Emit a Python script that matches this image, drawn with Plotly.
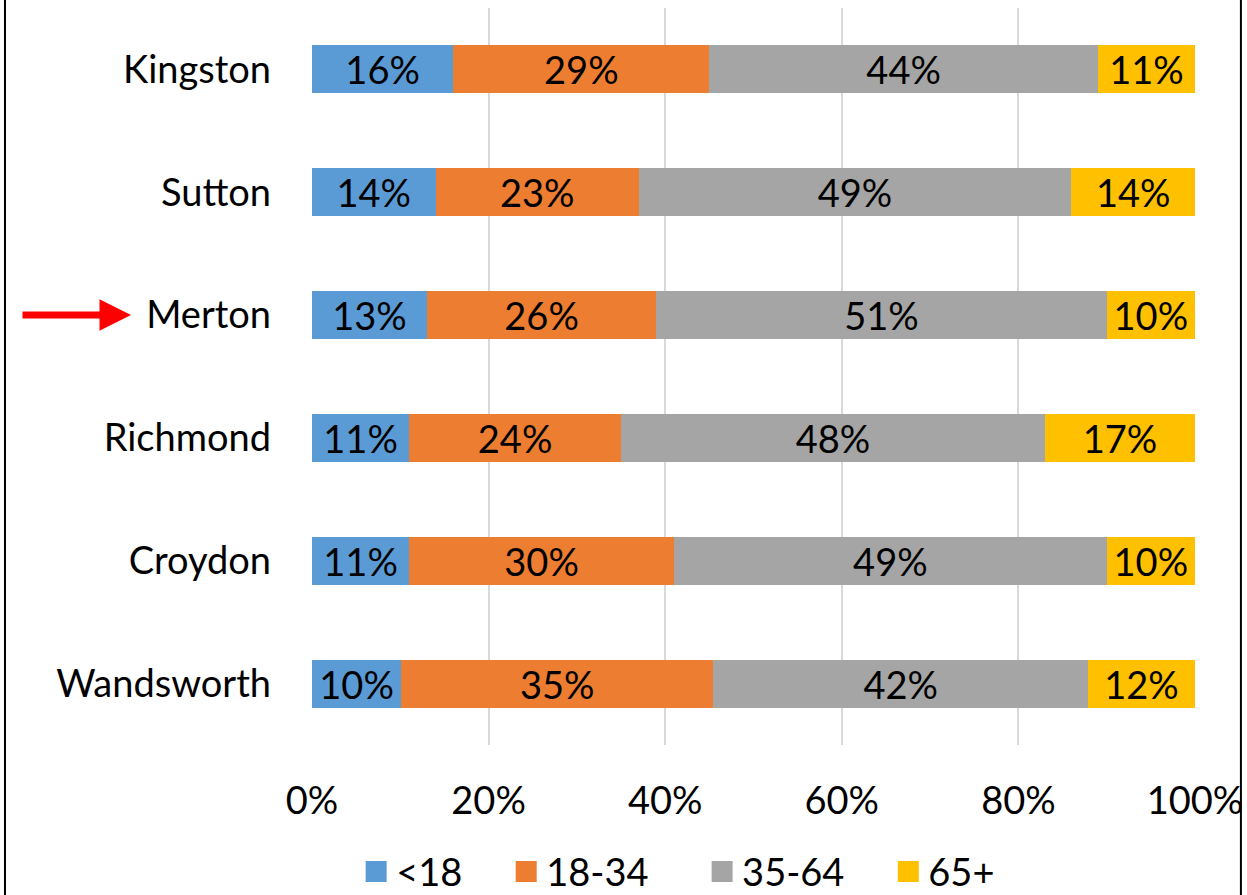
import plotly.graph_objects as go

# ─── Data (share of residents by age band, %) ─────────────────────────
boroughs = ["Kingston", "Sutton", "Merton", "Richmond", "Croydon", "Wandsworth"]
age_bands = ["<18", "18-34", "35-64", "65+"]
under_18 = [16, 14, 13, 11, 11, 10]
age_18_34 = [29, 23, 26, 24, 30, 35]
age_35_64 = [44, 49, 51, 48, 49, 42]
age_65_plus = [11, 14, 10, 17, 10, 12]
series = [under_18, age_18_34, age_35_64, age_65_plus]
colors = ["#5B9BD5", "#ED7D31", "#A5A5A5", "#FFC000"]
highlight = "Merton"

FONT = "Lato, 'Open Sans', sans-serif"
FS = 38
NBSP = "\u00a0"
legend_pad = [4, 5, 4, 0]  # extra spacing after each legend label

fig = go.Figure()
for name, vals, col in zip(age_bands, series, colors):
    fig.add_trace(go.Bar(
        y=boroughs, x=vals, name=name, orientation="h",
        marker=dict(color=col, line=dict(width=0)),
        text=[f"{v}%" for v in vals],
        textposition="inside", insidetextanchor="middle",
        textangle=0, constraintext="none",
        textfont=dict(color="#000000", size=FS, family=FONT),
        showlegend=False,
    ))

# legend entries with larger square swatches
for name, col, pad in zip(age_bands, colors, legend_pad):
    fig.add_trace(go.Scatter(
        x=[None], y=[None], mode="markers", name=name + NBSP * pad,
        marker=dict(symbol="square", size=30, color=col,
                    line=dict(color=col, width=10)),
        showlegend=True,
    ))

# arrow pointing at the highlighted borough
fig.add_annotation(
    x=-0.205, y=highlight, xref="paper", yref="y",
    ax=-110, ay=0, axref="pixel", ayref="pixel",
    text="", showarrow=True, arrowhead=2, arrowsize=0.9,
    arrowwidth=7, arrowcolor="#FF0000",
)

# outer frame
fig.add_shape(type="rect", xref="paper", yref="paper",
              x0=-0.3477, x1=1.052, y0=-0.3, y1=1.1,
              line=dict(color="#000000", width=2), layer="above")

fig.update_layout(
    barmode="stack", barnorm="percent", bargap=0.61,
    width=1247, height=895,
    paper_bgcolor="#FFFFFF", plot_bgcolor="#FFFFFF",
    font=dict(family=FONT, color="#000000", size=FS),
    margin=dict(l=312, r=52, t=8, b=150, autoexpand=False),
    xaxis=dict(range=[0, 100], dtick=20, ticksuffix="%",
               showgrid=True, gridcolor="#D9D9D9", gridwidth=1.5,
               zeroline=False, showline=False, ticks="",
               ticklabelstandoff=30, automargin=False,
               tickfont=dict(size=FS, family=FONT, color="#000000")),
    yaxis=dict(categoryorder="array", categoryarray=boroughs,
               autorange="reversed", showgrid=False, zeroline=False,
               showline=False, ticks="", ticklabelstandoff=40,
               automargin=False,
               tickfont=dict(size=FS, family=FONT, color="#000000")),
    showlegend=True,
    legend=dict(orientation="h", x=0.05, xanchor="left",
                y=-0.172, yanchor="middle", traceorder="normal",
                font=dict(size=FS, family=FONT, color="#000000"),
                bgcolor="rgba(0,0,0,0)", itemwidth=30),
)

fig.write_html("out.html", config={"displayModeBar": False},
               post_script="document.body.style.margin='0';")
